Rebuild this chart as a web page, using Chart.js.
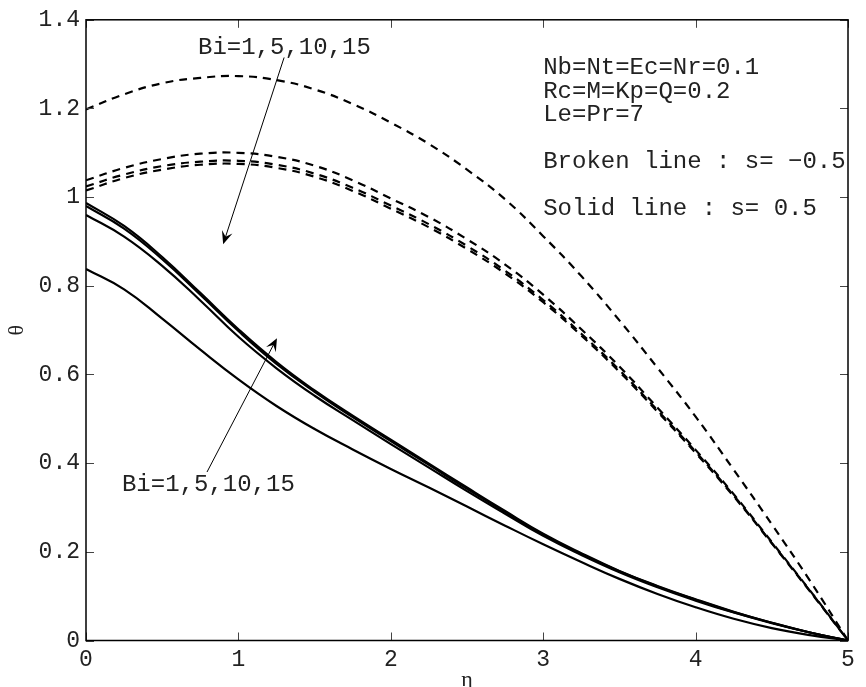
<!DOCTYPE html>
<html>
<head>
<meta charset="utf-8">
<script src="https://cdn.jsdelivr.net/npm/chart.js@4.4.1/dist/chart.umd.min.js"></script>
<style>
  html, body { margin: 0; padding: 0; background: #fff; }
</style>
</head>
<body>
<canvas id="chart" width="866" height="687"></canvas>
<script>
// eixo eta (0 a 5)
const eta = [0, 0.25, 0.5, 0.75, 1, 1.25, 1.5, 1.75, 2, 2.25, 2.5, 2.75, 3, 3.25, 3.5, 3.75, 4, 4.25, 4.5, 4.75, 5];

// theta para s = -0.5 (linha tracejada)
const bi1Neg = [1.198, 1.232, 1.257, 1.269, 1.273, 1.264, 1.243, 1.210, 1.168, 1.120, 1.062, 0.995, 0.912, 0.822, 0.722, 0.615, 0.505, 0.385, 0.262, 0.135, 0];
const bi5Neg = [1.038, 1.066, 1.086, 1.098, 1.100, 1.091, 1.071, 1.038, 0.997, 0.955, 0.905, 0.848, 0.780, 0.702, 0.618, 0.525, 0.430, 0.330, 0.222, 0.113, 0];
const bi10Neg = [1.024, 1.051, 1.070, 1.080, 1.082, 1.073, 1.053, 1.021, 0.981, 0.939, 0.890, 0.834, 0.768, 0.692, 0.610, 0.519, 0.426, 0.327, 0.220, 0.112, 0];
const bi15Neg = [1.015, 1.043, 1.062, 1.073, 1.075, 1.066, 1.046, 1.014, 0.974, 0.932, 0.883, 0.828, 0.763, 0.688, 0.606, 0.516, 0.423, 0.325, 0.219, 0.111, 0];

// theta para s = 0.5 (linha solida)
const bi1Pos = [0.838, 0.792, 0.726, 0.656, 0.589, 0.529, 0.477, 0.431, 0.387, 0.345, 0.302, 0.259, 0.217, 0.177, 0.139, 0.105, 0.075, 0.049, 0.028, 0.012, 0];
const bi5Pos = [0.960, 0.911, 0.845, 0.767, 0.685, 0.614, 0.552, 0.497, 0.443, 0.390, 0.337, 0.286, 0.236, 0.193, 0.154, 0.120, 0.090, 0.063, 0.039, 0.018, 0];
const bi10Pos = [0.980, 0.929, 0.860, 0.780, 0.698, 0.624, 0.561, 0.504, 0.450, 0.396, 0.342, 0.290, 0.239, 0.195, 0.156, 0.122, 0.092, 0.064, 0.040, 0.018, 0];
const bi15Pos = [0.987, 0.935, 0.865, 0.784, 0.702, 0.628, 0.564, 0.507, 0.453, 0.399, 0.345, 0.292, 0.241, 0.197, 0.157, 0.123, 0.093, 0.065, 0.040, 0.018, 0];

const ticksX = [0, 1, 2, 3, 4, 5];
const ticksY = [0, 0.2, 0.4, 0.6, 0.8, 1, 1.2, 1.4];
const rotulosY = ['0', '0.2', '0.4', '0.6', '0.8', '1', '1.2', '1.4'];

const parametros = ['Nb=Nt=Ec=Nr=0.1', 'Rc=M=Kp=Q=0.2', 'Le=Pr=7', '', 'Broken line : s= \u22120.5', '', 'Solid line : s= 0.5'];

// textos e setas em coordenadas do grafico (eta, theta)
const textosBi = [
  { texto: 'Bi=1,5,10,15', x: 0.735, y: 1.337 },
  { texto: 'Bi=1,5,10,15', x: 0.236, y: 0.351 }
];
const setas = [
  { de: [1.30, 1.315], para: [0.90, 0.894] },
  { de: [0.794, 0.380], para: [1.253, 0.682] }
];

const FONTE = '"Liberation Mono", "Courier New", monospace';

function serie(valores, tracejado) {
  return {
    data: eta.map((e, i) => ({ x: e, y: valores[i] })),
    borderColor: '#000',
    borderWidth: 2.2,
    borderDash: tracejado ? [8, 6] : [],
    pointRadius: 0,
    fill: false,
    tension: 0.45
  };
}

// moldura, ticks para dentro e anotacoes
const moldura = {
  id: 'moldura',
  afterDatasetsDraw(chart) {
    const { ctx, chartArea: a, scales: { x, y } } = chart;
    ctx.save();
    ctx.strokeStyle = '#444';
    ctx.lineWidth = 1;
    ctx.beginPath();
    ticksX.forEach(v => {
      const px = Math.round(x.getPixelForValue(v)) + 0.5;
      ctx.moveTo(px, a.bottom); ctx.lineTo(px, a.bottom - 8);
      ctx.moveTo(px, a.top); ctx.lineTo(px, a.top + 8);
    });
    ticksY.forEach(v => {
      const py = Math.round(y.getPixelForValue(v)) + 0.5;
      ctx.moveTo(a.left, py); ctx.lineTo(a.left + 8, py);
      ctx.moveTo(a.right, py); ctx.lineTo(a.right - 8, py);
    });
    ctx.stroke();

    ctx.strokeStyle = '#000';
    ctx.lineWidth = 1.5;
    ctx.strokeRect(a.left, a.top, a.right - a.left, a.bottom - a.top);

    // textos Bi
    ctx.fillStyle = '#222';
    ctx.font = '24px ' + FONTE;
    ctx.textBaseline = 'middle';
    ctx.textAlign = 'left';
    textosBi.forEach(t => {
      ctx.fillText(t.texto, x.getPixelForValue(t.x), y.getPixelForValue(t.y));
    });

    // bloco de parametros
    const x0 = x.getPixelForValue(3.0);
    const y0 = y.getPixelForValue(1.291);
    parametros.forEach((linha, i) => {
      if (linha) ctx.fillText(linha, x0, y0 + i * 23.5);
    });

    // setas
    ctx.strokeStyle = '#000';
    ctx.lineWidth = 1;
    setas.forEach(s => {
      const x1 = x.getPixelForValue(s.de[0]), y1 = y.getPixelForValue(s.de[1]);
      const x2 = x.getPixelForValue(s.para[0]), y2 = y.getPixelForValue(s.para[1]);
      const ang = Math.atan2(y2 - y1, x2 - x1);
      const comp = 13, larg = 5.5;
      ctx.beginPath();
      ctx.moveTo(x1, y1);
      ctx.lineTo(x2 - Math.cos(ang) * 6, y2 - Math.sin(ang) * 6);
      ctx.stroke();
      ctx.save();
      ctx.translate(x2, y2);
      ctx.rotate(ang);
      ctx.beginPath();
      ctx.moveTo(0, 0);
      ctx.lineTo(-comp, -larg);
      ctx.lineTo(-comp * 0.6, 0);
      ctx.lineTo(-comp, larg);
      ctx.closePath();
      ctx.fillStyle = '#000';
      ctx.fill();
      ctx.restore();
    });
    ctx.restore();
  }
};

const ctx = document.getElementById('chart').getContext('2d');
new Chart(ctx, {
  type: 'line',
  data: {
    datasets: [
      serie(bi1Neg, true), serie(bi5Neg, true), serie(bi10Neg, true), serie(bi15Neg, true),
      serie(bi1Pos, false), serie(bi5Pos, false), serie(bi10Pos, false), serie(bi15Pos, false)
    ]
  },
  options: {
    responsive: false,
    animation: false,
    layout: { padding: { top: 13, right: 18, left: 0, bottom: 0 } },
    plugins: { legend: { display: false }, tooltip: { enabled: false } },
    scales: {
      x: {
        type: 'linear',
        min: 0,
        max: 5,
        afterBuildTicks: scale => { scale.ticks = ticksX.map(v => ({ value: v })); },
        afterFit: scale => { scale.height = 46.5; },
        grid: { display: false, drawTicks: false },
        border: { display: false },
        ticks: { color: '#222', font: { family: FONTE, size: 23 }, padding: 6, maxRotation: 0 },
        title: {
          display: true,
          text: '\u03b7',
          color: '#222',
          font: { family: '"Liberation Serif", serif', size: 22, lineHeight: 0.6 },
          padding: 0
        }
      },
      y: {
        min: 0,
        max: 1.4,
        afterBuildTicks: scale => { scale.ticks = ticksY.map(v => ({ value: v })); },
        afterFit: scale => { scale.width = 86; },
        grid: { display: false, drawTicks: false },
        border: { display: false },
        ticks: {
          color: '#222',
          font: { family: FONTE, size: 23 },
          padding: 6,
          callback: (v, i) => rotulosY[i]
        },
        title: {
          display: true,
          text: '\u03b8',
          color: '#222',
          font: { family: '"Liberation Serif", serif', size: 22 },
          padding: { top: 4 }
        }
      }
    }
  },
  plugins: [moldura]
});
</script>
</body>
</html>
